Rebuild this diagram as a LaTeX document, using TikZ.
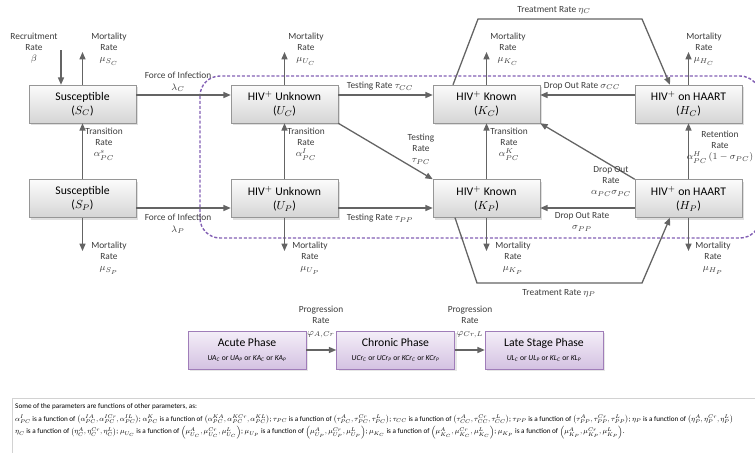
\documentclass[tikz,border=0pt]{standalone}
\usepackage{fontspec}
\setmainfont{Carlito}
\usepackage{amsmath,graphicx}
\usetikzlibrary{positioning,shadows,arrows.meta}
\definecolor{boxline}{RGB}{150,150,150}
\definecolor{arrowgray}{RGB}{100,100,100}
\definecolor{labelgray}{RGB}{60,60,60}
\definecolor{phaseline}{RGB}{160,125,185}
\definecolor{phasetop}{RGB}{244,238,248}
\definecolor{phasebot}{RGB}{212,194,226}
\definecolor{dashpurple}{RGB}{130,95,180}
\tikzset{
	box/.style={draw=boxline, top color=gray!3, bottom color=gray!33, minimum width=32.1mm, minimum height=11.4mm, align=center, inner sep=1pt, font=\fontsize{10}{12}\selectfont, drop shadow={opacity=0.25, shadow xshift=0.6mm, shadow yshift=-0.6mm}},
	phasebox/.style={draw=phaseline, top color=phasetop, bottom color=phasebot, minimum width=35.4mm, minimum height=11.4mm, align=center, inner sep=1pt, font=\fontsize{10}{12}\selectfont, drop shadow={opacity=0.2, shadow xshift=0.6mm, shadow yshift=-0.6mm}},
	lbl/.style={align=center, inner sep=0pt, text=labelgray, font=\fontsize{8}{9.6}\selectfont},
	flow/.style={draw=arrowgray, line width=1.1pt, -{Triangle[length=2.2mm, width=1.8mm]}},
	line/.style={draw=arrowgray, line width=1.1pt}
}
\newcommand{\phasesub}[1]{{\fontsize{6.5}{8}\selectfont #1}}
\newcommand{\ph}[2]{\textit{#1}\textsubscript{\textit{#2}}}
\begin{document}
\begin{tikzpicture}[x=0.3mm, y=-0.3mm]
		\useasboundingbox (0,0) rectangle (755,452);
		\draw[dashpurple, line width=1.2pt, dash pattern=on 2.6pt off 1.6pt, rounded corners=6mm] (200,76) rectangle (760,238);
		
		\node (Sc) at (82.5,104) [box]{Susceptible\\($S_C$)};
		\node (Sp) at (82.5,198.5) [box]{Susceptible\\($S_P$)};
		\node (Uc) at (284.5,104) [box]{HIV$^+$ Unknown\\($U_C$)};
		\node (Up) at (284.5,198.5) [box]{HIV$^+$ Unknown\\($U_P$)};
		\node (Kc) at (486.5,104) [box]{HIV$^+$ Known\\($K_C$)};
		\node (Kp) at (486.5,198.5) [box]{HIV$^+$ Known\\($K_P$)};
		\node (Hc) at (688.5,104) [box]{HIV$^+$ on HAART\\($H_C$)};
		\node (Hp) at (688.5,198.5) [box]{HIV$^+$ on HAART\\($H_P$)};
		
		\coordinate (rec) at (61,50);
		\coordinate (mSc) at (82.5,52);
		\coordinate (mSp) at (82.5,251);
		\coordinate (mUc) at (284.5,52);
		\coordinate (mUp) at (284.5,251);
		\coordinate (mKc) at (486.5,52);
		\coordinate (mKp) at (486.5,251);
		\coordinate (mHc) at (688.5,52);
		\coordinate (mHp) at (688.5,251);
		\coordinate (tc1) at (478,19);
		\coordinate (tc2) at (642,19);
		\coordinate (tp1) at (477,283);
		\coordinate (tp2) at (642,283);
		
		\draw[flow] (rec) -- (Sc.north -| rec);
		\foreach \a/\b in {Sc/mSc,Uc/mUc,Kc/mKc,Hc/mHc}
		\draw[flow] (\a.north) -- (\b);
		\foreach \a/\b in {Sp/mSp,Up/mUp,Kp/mKp,Hp/mHp}
		\draw[flow] (\a.south) -- (\b);
		\foreach \a/\b in {Sp/Sc,Up/Uc,Kp/Kc,Hp/Hc}
		\draw[flow] (\a.north) -- (\b.south);
		\draw[flow] (Sc.east |- 0,95) -- (Uc.west |- 0,95);
		\draw[flow] (Uc.east |- 0,95) -- (Kc.west |- 0,95);
		\draw[flow] (Hc.west |- 0,95) -- (Kc.east |- 0,95);
		\draw[flow] (Sp.east |- 0,208) -- (Up.west |- 0,208);
		\draw[flow] (Up.east |- 0,208) -- (Kp.west |- 0,208);
		\draw[flow] (Hp.west |- 0,208) -- (Kp.east |- 0,208);
		\draw[flow] (Uc.south east) -- (Kp.north west);
		\draw[flow] (Hp.north west) -- (Kc.south east);
		\draw[flow] (Kc.north -| 453,0) -- (tc1) -- (tc2) -- (Hc.north -| 670,0);
		\draw[flow] (Kp.south -| 455,0) -- (tp1) -- (tp2) -- (Hp.south -| 670,0);
		
		\node (lRec) at (34,48) [lbl]{Recruitment\\Rate\\$\beta$};
		\node (lMSc) at (109,49) [lbl]{Mortality\\Rate\\$\mu_{S_C}$};
		\node (lFc) at (178,82) [lbl]{Force of Infection\\$\lambda_C$};
		\node (lTs) at (104,144) [lbl]{Transition\\Rate\\$\alpha^{s}_{PC}$};
		\node (lMSp) at (109,258) [lbl]{Mortality\\Rate\\$\mu_{S_P}$};
		\node (lFp) at (178,224) [lbl]{Force of Infection\\$\lambda_P$};
		\node (lMUc) at (306,49) [lbl]{Mortality\\Rate\\$\mu_{U_C}$};
		\node (lTu) at (306,144) [lbl]{Transition\\Rate\\$\alpha^{I}_{PC}$};
		\node (lMUp) at (310,258) [lbl]{Mortality\\Rate\\$\mu_{U_P}$};
		\node (lTcc) at (380,86) [lbl]{Testing Rate $\tau_{CC}$};
		\node (lTpc) at (421,149) [lbl]{Testing\\Rate\\$\tau_{PC}$};
		\node (lTpp) at (380,218) [lbl]{Testing Rate $\tau_{PP}$};
		\node (lMKc) at (508,49) [lbl]{Mortality\\Rate\\$\mu_{K_C}$};
		\node (lTk) at (509,144) [lbl]{Transition\\Rate\\$\alpha^{K}_{PC}$};
		\node (lMKp) at (513,258) [lbl]{Mortality\\Rate\\$\mu_{K_P}$};
		\node (lDcc) at (582,86) [lbl]{Drop Out Rate $\sigma_{CC}$};
		\node (lDpc) at (611,181) [lbl]{Drop Out\\Rate\\$\alpha_{PC}\sigma_{PC}$};
		\node (lDpp) at (582,222) [lbl]{Drop Out Rate\\$\sigma_{PP}$};
		\node (lMHc) at (704,49) [lbl]{Mortality\\Rate\\$\mu_{H_C}$};
		\node (lRet) at (720,147) [lbl]{Retention\\Rate\\$\alpha^{H}_{PC}\left(1-\sigma_{PC}\right)$};
		\node (lMHp) at (713,258) [lbl]{Mortality\\Rate\\$\mu_{H_P}$};
		\node (lEc) at (554,10) [lbl]{Treatment Rate $\eta_C$};
		\node (lEp) at (559,293) [lbl]{Treatment Rate $\eta_P$};
		
		\node (A) at (247,350) [phasebox]{Acute Phase\\\phasesub{\ph{UA}{C} or \ph{UA}{P} or \ph{KA}{C} or \ph{KA}{P}}};
		\node (Cr) at (395.5,350) [phasebox]{Chronic Phase\\\phasesub{\ph{UCr}{C} or \ph{UCr}{P} or \ph{KCr}{C} or \ph{KCr}{P}}};
		\node (L) at (544,350) [phasebox]{Late Stage Phase\\\phasesub{\ph{UL}{C} or \ph{UL}{P} or \ph{KL}{C} or \ph{KL}{P}}};
		\draw[flow] (A) -- (Cr);
		\draw[flow] (Cr) -- (L);
		\node (lPac) at (321,322) [lbl]{Progression\\Rate\\$\varphi_{A,Cr}$};
		\node (lPcl) at (470,322) [lbl]{Progression\\Rate\\$\varphi_{Cr,L}$};
		
		\draw[gray!35] (12,460) -- (12,398) -- (760,398);
		\node (note) at (15,400) [anchor=north west, inner sep=0pt]{\resizebox{215.4mm}{!}{\fontsize{8}{9.6}\selectfont\renewcommand{\arraystretch}{1.45}\begin{tabular}{@{}l@{}}
		Some of the parameters are functions of other parameters, as:\\
		$\alpha^{I}_{PC}$ is a function of $\left(\alpha^{IA}_{PC},\alpha^{ICr}_{PC},\alpha^{IL}_{PC}\right)$; $\alpha^{K}_{PC}$ is a function of $\left(\alpha^{KA}_{PC},\alpha^{KCr}_{PC},\alpha^{KL}_{PC}\right)$; $\tau_{PC}$ is a function of $\left(\tau^{A}_{PC},\tau^{Cr}_{PC},\tau^{L}_{PC}\right)$; $\tau_{CC}$ is a function of $\left(\tau^{A}_{CC},\tau^{Cr}_{CC},\tau^{L}_{CC}\right)$; $\tau_{PP}$ is a function of $\left(\tau^{A}_{PP},\tau^{Cr}_{PP},\tau^{L}_{PP}\right)$; $\eta_{P}$ is a function of $\left(\eta^{A}_{P},\eta^{Cr}_{P},\eta^{L}_{P}\right)$\\
		$\eta_{C}$ is a function of $\left(\eta^{A}_{C},\eta^{Cr}_{C},\eta^{L}_{C}\right)$; $\mu_{U_C}$ is a function of $\left(\mu^{A}_{U_C},\mu^{Cr}_{U_C},\mu^{L}_{U_C}\right)$; $\mu_{U_P}$ is a function of $\left(\mu^{A}_{U_P},\mu^{Cr}_{U_P},\mu^{L}_{U_P}\right)$; $\mu_{K_C}$ is a function of $\left(\mu^{A}_{K_C},\mu^{Cr}_{K_C},\mu^{L}_{K_C}\right)$; $\mu_{K_P}$ is a function of $\left(\mu^{A}_{K_P},\mu^{Cr}_{K_P},\mu^{L}_{K_P}\right)$.
		\end{tabular}}};
		
	\end{tikzpicture}
\end{document}
